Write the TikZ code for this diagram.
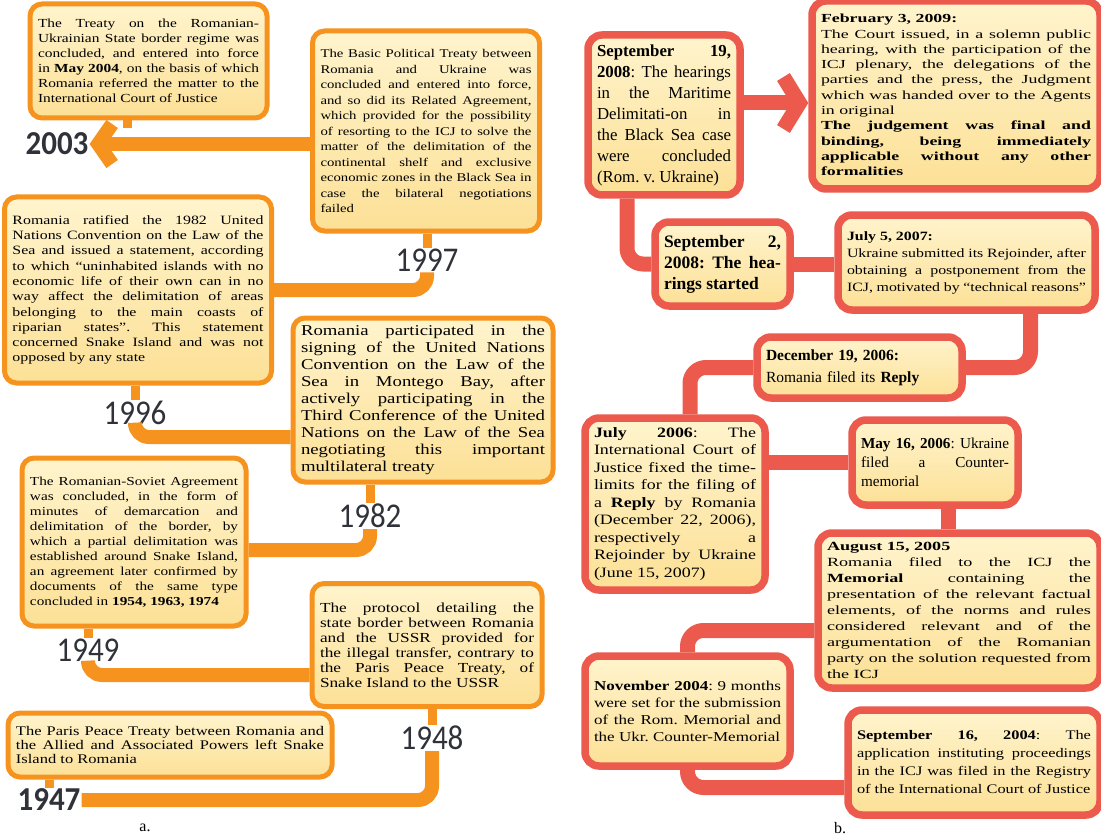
\documentclass[tikz,border=0pt]{standalone}
\usepackage{fontspec}
\setmainfont[FakeStretch=1.25]{Liberation Serif}
\newfontfamily\plainserif{Liberation Serif}
\newfontfamily\xwideserif[FakeStretch=1.45]{Liberation Serif}
\newfontfamily\yearfont{Carlito}
\usetikzlibrary{arrows.meta}
\usetikzlibrary{positioning}
\definecolor{tlorange}{RGB}{246,146,30}
\definecolor{tlred}{RGB}{236,90,78}
\definecolor{boxtop}{RGB}{255,244,205}
\definecolor{boxbot}{RGB}{252,224,150}
\definecolor{yeargray}{RGB}{48,50,58}
\newcommand{\boxfs}[2]{\fontsize{#1}{#2}\selectfont}
\newcommand{\yr}[2][1.12]{\scalebox{1}[#1]{#2}}
\frenchspacing

\begin{document}
\begin{tikzpicture}[x=1pt,y=-1pt,
    obox/.style={draw=tlorange,line width=5pt,rounded corners=12pt,top color=boxtop,bottom color=boxbot,
      inner xsep=8pt,inner ysep=3pt,align=justify},
    rbox/.style={draw=tlred,line width=7.5pt,rounded corners=14pt,top color=boxtop,bottom color=boxbot,
      inner xsep=9pt,inner ysep=3pt,align=justify},
    oline/.style={draw=tlorange,line width=14pt,rounded corners=14pt},
    rline/.style={draw=tlred,line width=15pt,rounded corners=16pt},
    ostub/.style={draw=tlorange,line width=9pt},
    year/.style={font=\yearfont\fontsize{31}{31}\selectfont,text=yeargray,inner sep=1pt},
    bigyear/.style={year,font=\yearfont\bfseries\fontsize{31}{31}\selectfont}]
  \useasboundingbox (0,0) rectangle (1101,840);

  % a. left timeline
  \node[obox,text width=221pt,minimum height=114pt,font=\boxfs{12.3}{15}] (l2003) at (148.5,61)
    {The Treaty on the Romanian-\linebreak Ukrainian State border regime was\linebreak concluded, and entered into force\linebreak
     in \textbf{May 2004}, on the basis of which\linebreak Romania referred the matter to the\linebreak International Court of Justice};
  \node[bigyear] (y2003) at (57,144) {\yr[1.08]{2003}};

  \node[obox,text width=211pt,minimum height=200pt,font=\boxfs{11.8}{15.5}] (l1997) at (426,131)
    {The Basic Political Treaty between\linebreak Romania and Ukraine was\linebreak concluded and entered into force,\linebreak
     and so did its Related Agreement,\linebreak which provided for the possibility\linebreak of resorting to the ICJ to solve the\linebreak
     matter of the delimitation of the\linebreak continental shelf and exclusive\linebreak economic zones in the Black Sea in\linebreak
     case the bilateral negotiations\linebreak failed};
  \node[year] (y1997) at (427,260) {\yr{1997}};

  \node[obox,text width=251pt,minimum height=186pt,font=\boxfs{12.7}{15.3}] (l1996) at (138,290)
    {Romania ratified the 1982 United\linebreak Nations Convention on the Law of the\linebreak Sea and issued a statement, according\linebreak
     to which “uninhabited islands with no\linebreak economic life of their own can in no\linebreak way affect the delimitation of areas\linebreak
     belonging to the main coasts of\linebreak riparian states”. This statement\linebreak concerned Snake Island and was not\linebreak
     opposed by any state};
  \node[year] (y1996) at (135,413) {\yr{1996}};

  \node[obox,text width=244pt,minimum height=164pt,font=\boxfs{15}{17}] (l1982) at (423,400)
    {Romania participated in the\linebreak signing of the United Nations\linebreak Convention on the Law of the\linebreak
     Sea in Montego Bay, after\linebreak actively participating in the\linebreak Third Conference of the United\linebreak
     Nations on the Law of the Sea\linebreak negotiating this important\linebreak multilateral treaty};
  \node[year] (y1982) at (370,516) {\yr{1982}};

  \node[obox,text width=208pt,minimum height=168pt,font=\boxfs{12.2}{15}] (l1949) at (134,542)
    {The Romanian-Soviet Agreement\linebreak was concluded, in the form of\linebreak minutes of demarcation and\linebreak
     delimitation of the border, by\linebreak which a partial delimitation was\linebreak established around Snake Island,\linebreak
     an agreement later confirmed by\linebreak documents of the same type\linebreak concluded in \textbf{1954, 1963, 1974}};
  \node[year] (y1949) at (88,650) {\yr{1949}};

  \node[obox,text width=214pt,minimum height=123pt,font=\boxfs{13.8}{15}] (l1948) at (427,645)
    {The protocol detailing the\linebreak state border between Romania\linebreak and the USSR provided for\linebreak
     the illegal transfer, contrary to\linebreak the Paris Peace Treaty, of\linebreak Snake Island to the USSR};
  \node[year] (y1948) at (432,738) {\yr{1948}};

  \node[obox,text width=308pt,minimum height=64pt,font=\boxfs{13.2}{14}] (l1947) at (170,745)
    {The Paris Peace Treaty between Romania and\linebreak the Allied and Associated Powers left Snake\linebreak Island to Romania};
  \node[bigyear] (y1947) at (49,800) {\yr[1.08]{1947}};

  \node[font=\plainserif\boxfs{16}{16}] (capa) at (145,828) {a.};

  % left connectors
  \draw[oline,-{Straight Barb[length=14pt,width=40pt]}] (l1997.west |- y2003.east) -- (y2003.east);
  \draw[ostub] ([xshift=-21pt]l2003.south) -- ([xshift=-21pt,yshift=-8pt]l2003.south);
  \draw[ostub] (y1997.north |- l1997.south) -- (y1997.north);
  \draw[oline] (y1997.south) |- (l1996.east);
  \draw[ostub] (y1996.north |- l1996.south) -- (y1996.north);
  \draw[oline] (y1996.south) |- ([yshift=-37pt]l1982.west);
  \draw[ostub] (y1982.north |- l1982.south) -- (y1982.north);
  \draw[oline] (y1982.south) |- ([yshift=-8pt]l1949.east);
  \draw[ostub] (y1949.north |- l1949.south) -- (y1949.north);
  \draw[oline] (y1949.south) |- ([yshift=-30pt]l1948.west);
  \draw[ostub] (y1948.north |- l1948.south) -- (y1948.north);
  \draw[oline] (y1948.south) |- (y1947.east);
  \draw[ostub] (y1947.north |- l1947.south) -- (y1947.north);

  % b. right timeline
  \node[rbox,text width=134pt,minimum height=160pt,font=\plainserif\boxfs{16.8}{21}] (r2008b) at (664,115)
    {\textbf{September 19,\linebreak 2008}: The hearings\linebreak in the Maritime\linebreak \mbox{Delimitati-on} in\linebreak
     the Black Sea case\linebreak were concluded\linebreak (Rom. v. Ukraine)};
  \node[rbox,text width=270pt,minimum height=188pt,font=\xwideserif\boxfs{12.3}{15.3}] (r2009) at (956,95)
    {\textbf{February 3, 2009:}\\ The Court issued, in a solemn public\linebreak hearing, with the participation of the\linebreak
     ICJ plenary, the delegations of the\linebreak parties and the press, the Judgment\linebreak which was handed over to the Agents\linebreak
     in original\\ \textbf{The judgement was final and\linebreak binding, being immediately\linebreak applicable without any other\linebreak formalities}};
  \node[rbox,text width=117pt,minimum height=84pt,font=\plainserif\boxfs{17.5}{21}] (r2008a) at (722.5,264)
    {\textbf{September 2,\linebreak 2008: The hea-\linebreak rings started}};
  \node[rbox,text width=239pt,minimum height=95pt,font=\boxfs{12.7}{17}] (r2007) at (966.5,262.5)
    {\textbf{July 5, 2007:}\\ Ukraine submitted its Rejoinder, after\linebreak obtaining a postponement from the\linebreak
     ICJ, motivated by “technical reasons”};
  \node[rbox,text width=187pt,minimum height=61pt,font=\plainserif\boxfs{15.5}{22},align=left] (r2006c) at (859.5,367.5)
    {\textbf{December 19, 2006:}\\ Romania filed its \textbf{Reply}};
  \node[rbox,text width=162pt,minimum height=172pt,font=\boxfs{14.3}{17.5}] (r2006b) at (675,504)
    {\textbf{July 2006}: The\linebreak International Court of\linebreak Justice fixed the time-\linebreak limits for the filing of\linebreak
     a \textbf{Reply} by Romania\linebreak (December 22, 2006),\linebreak respectively a\linebreak Rejoinder by Ukraine\linebreak (June 15, 2007)};
  \node[rbox,text width=148pt,minimum height=85pt,font=\plainserif\boxfs{15.2}{19}] (r2006a) at (935,462.5)
    {\textbf{May 16, 2006}: Ukraine\linebreak filed a Counter-\linebreak memorial};
  \node[rbox,text width=264pt,minimum height=155pt,font=\xwideserif\boxfs{12.5}{16}] (r2005) at (959,610.5)
    {\textbf{August 15, 2005}\\ Romania filed to the ICJ the\linebreak \textbf{Memorial} containing the\linebreak
     presentation of the relevant factual\linebreak elements, of the norms and rules\linebreak considered relevant and of the\linebreak
     argumentation of the Romanian\linebreak party on the solution requested from\linebreak the ICJ};
  \node[rbox,text width=187pt,minimum height=110pt,font=\boxfs{13.6}{17}] (r2004b) at (687.5,711)
    {\textbf{November 2004}: 9 months\linebreak were set for the submission\linebreak of the Rom. Memorial and\linebreak
     the Ukr. Counter-Memorial\par\vspace*{34pt}};
  \node[rbox,text width=234pt,minimum height=105pt,font=\boxfs{13.1}{18}] (r2004a) at (974,762.5)
    {\textbf{September 16, 2004}: The\linebreak application instituting proceedings\linebreak
     in the ICJ was filed in the Registry\linebreak of the International Court of Justice};

  \node[font=\plainserif\boxfs{16}{16}] (capb) at (840,828) {b.};

  % right connectors
  \coordinate (rarrow) at ([yshift=12pt]r2008b.east);
  \draw[rline,-{Straight Barb[length=16pt,width=52pt]}] (rarrow) -- (r2009.west |- rarrow);
  \draw[rline] ([xshift=-37pt]r2008b.south) |- (r2008a.west);
  \draw[rline] (r2008a.east) -- (r2008a.east -| r2007.west);
  \draw[rline] ([xshift=64pt]r2007.south) |- (r2006c.east);
  \draw[rline] (r2006c.west) -| ([xshift=15pt]r2006b.north);
  \draw[rline] (r2006a.west -| r2006b.east) -- (r2006a.west);
  \draw[rline] ([xshift=13pt]r2006a.south) -- ([xshift=13pt]r2006a.south |- r2005.north);
  \draw[rline] ([yshift=-20pt]r2005.west) -| (r2004b.north);
  \draw[rline] (r2004b.south) |- ([yshift=-25pt]r2004a.west);
\end{tikzpicture}
\end{document}
